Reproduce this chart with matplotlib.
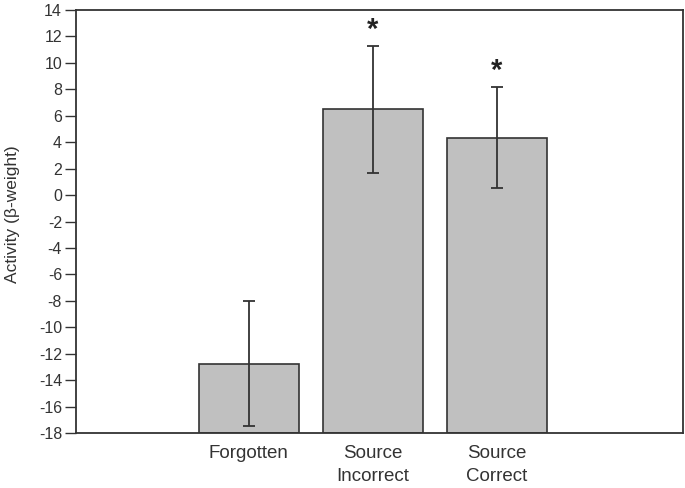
import matplotlib
matplotlib.use("Agg")
import matplotlib.pyplot as plt

categories = ["Forgotten", "Source\nIncorrect", "Source\nCorrect"]
values = [-12.8, 6.5, 4.3]
err_low = [-17.5, 1.7, 0.5]
err_high = [-8.0, 11.3, 8.2]
stars = ["", "*", "*"]
yticks = list(range(-18, 15, 2))
ymin, ymax = -18, 14

plt.rcParams['font.family'] = ['Liberation Sans', 'DejaVu Sans']

fig = plt.figure(figsize=(6.85, 4.88), dpi=100)
ax = fig.add_axes([76/685, 1-433/488, (683-76)/685, (433-10)/488])

x = list(range(len(categories)))
yerr = [[v - lo for v, lo in zip(values, err_low)], [hi - v for v, hi in zip(values, err_high)]]
ax.bar(x, [v - ymin for v in values], bottom=ymin, width=0.806, color="#c0c0c0",
       edgecolor="#333333", linewidth=1.2, zorder=2)
ax.errorbar(x, values, yerr=yerr, fmt="none", ecolor="#333333", elinewidth=1.3,
            capsize=4.3, capthick=1.3, zorder=3)
for xi, hi, s in zip(x, err_high, stars):
    if s:
        ax.text(xi, hi + 0.15, s, ha="center", va="bottom", fontsize=21, color="#222222",
                fontweight="bold")

ax.set_ylim(ymin, ymax)
ax.set_xlim(-1.395, 3.502)
ax.set_yticks(yticks)
ax.set_yticklabels([str(t) for t in yticks])
ax.set_xticks(x)
ax.set_xticklabels(categories, linespacing=1.4)
ax.tick_params(axis="x", length=0, pad=9, labelsize=13.5, labelcolor="#333333")
ax.tick_params(axis="y", direction="out", length=8, width=1, color="#333333",
               labelsize=11.5, labelcolor="#333333", pad=2)
for sp in ax.spines.values():
    sp.set_color("#333333")
    sp.set_linewidth(1.3)
ax.set_ylabel("Activity (β-weight)", fontsize=12.5, color="#333333")
ax.yaxis.label.set_va("center")
ax.yaxis.set_label_coords((13 - 76) / 607, (433 - 214) / 423)

fig.savefig("out.png", dpi=100)
